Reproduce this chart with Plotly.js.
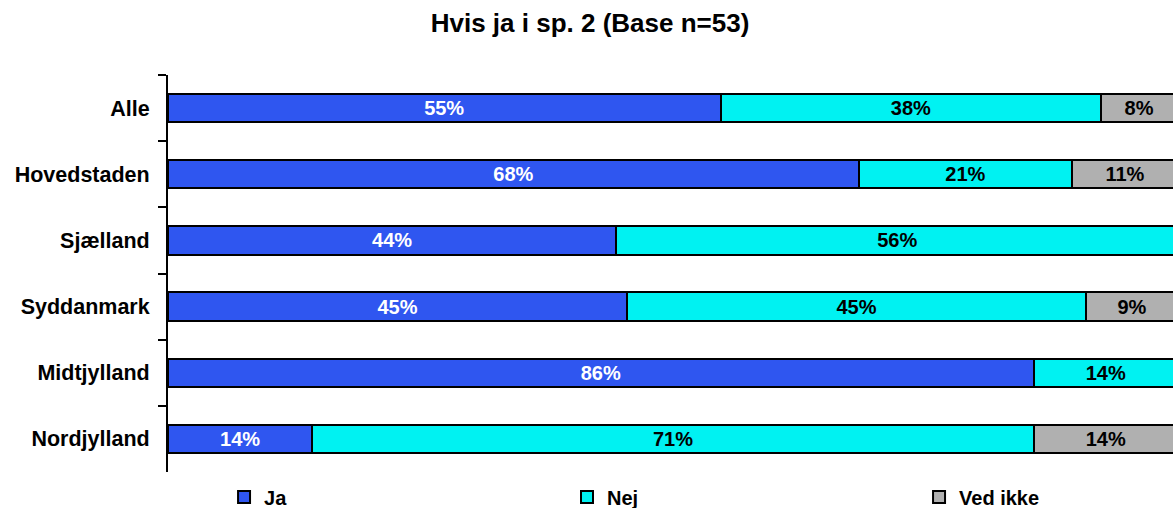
<!DOCTYPE html>
<html>
<head>
<meta charset="utf-8">
<script src="https://cdn.plot.ly/plotly-3.0.1.min.js"></script>
<style>html,body{margin:0;padding:0;background:#fff;}#chart{width:1173px;height:508px;}</style>
</head>
<body>
<div id="chart"></div>
<script>
const categories = ["Alle", "Hovedstaden", "Sjælland", "Syddanmark", "Midtjylland", "Nordjylland"];
const ja = [54.7, 68.4, 44.4, 45.45, 85.7, 14.3];
const nej = [37.7, 21.1, 55.6, 45.45, 14.3, 71.4];
const vedIkke = [7.5, 10.5, 0, 9.09, 0, 14.3];
const seriesNames = ["Ja", "Nej", "Ved ikke"];

const FONT = "Arial, 'Liberation Sans', sans-serif";
const lbl = arr => arr.map(v => v > 0 ? Math.round(v) + "%" : "");

function mk(name, vals, color, txtColor, legendId) {
  return {
    type: "bar", orientation: "h", name: name, legend: legendId,
    y: categories, x: vals,
    text: lbl(vals), textposition: "inside", insidetextanchor: "middle",
    textangle: 0, constraintext: "none",
    textfont: {family: FONT, size: 20, color: txtColor, weight: "bold"},
    marker: {color: color, line: {color: "#000", width: 2}},
    hoverinfo: "skip"
  };
}

const data = [
  mk(seriesNames[0], ja, "#2F56F0", "#ffffff", "legend"),
  mk(seriesNames[1], nej, "#00F2F2", "#000000", "legend2"),
  mk(seriesNames[2], vedIkke, "#B0B0B0", "#000000", "legend3")
];

function leg(x) {
  return {orientation: "h", x: x, xref: "container", xanchor: "left",
          y: 0.0217, yref: "container", yanchor: "middle", bgcolor: "rgba(0,0,0,0)",
          font: {family: FONT, size: 20, color: "#000", weight: "bold"}};
}

const layout = {
  width: 1173, height: 508,
  margin: {l: 168, r: 0, t: 75, b: 36},
  paper_bgcolor: "#fff", plot_bgcolor: "#fff",
  barmode: "stack", bargap: 0.57,
  title: {text: "Hvis ja i sp. 2 (Base n=53)", x: 0.503, xref: "container", xanchor: "center",
          y: 0.955, yref: "container", yanchor: "middle",
          font: {family: FONT, size: 26, color: "#000", weight: "bold"}},
  xaxis: {range: [0, 99.5], visible: false, fixedrange: true},
  yaxis: {autorange: "reversed", showline: true, linecolor: "#000", linewidth: 2,
          ticks: "outside", tickson: "boundaries", ticklen: 8, tickwidth: 2, tickcolor: "#000",
          ticklabelstandoff: 12, showgrid: false, zeroline: false,
          tickfont: {family: FONT, size: 21.5, color: "#000", weight: "bold"}},
  showlegend: true,
  legend: leg(0.191),
  legend2: leg(0.4834),
  legend3: leg(0.7835),
  uniformtext: {mode: "show", minsize: 20}
};

Plotly.newPlot("chart", data, layout, {displayModeBar: false, staticPlot: true});
</script>
</body>
</html>
